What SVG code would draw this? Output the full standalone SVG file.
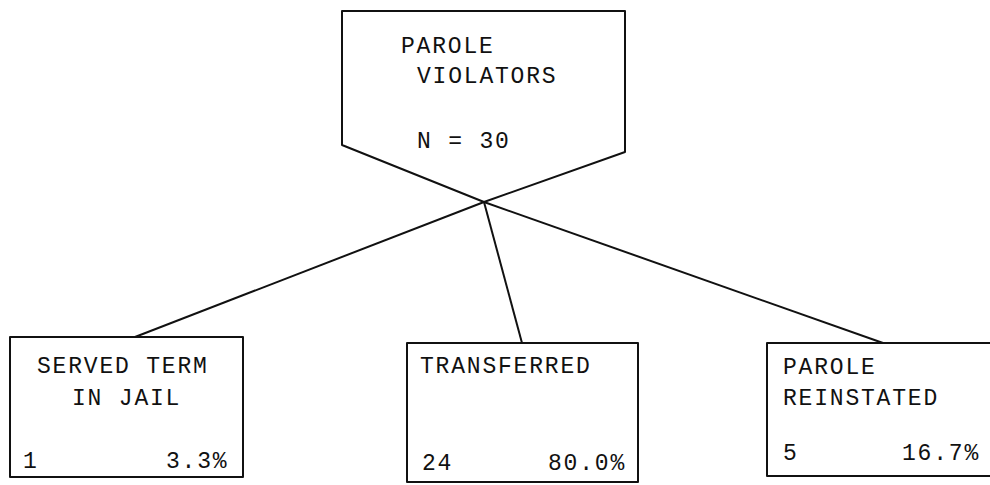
<svg xmlns="http://www.w3.org/2000/svg" width="990" height="485" viewBox="0 0 990 485">
<style>
.s{fill:none;stroke:#111;stroke-width:2;stroke-linejoin:round}
.t{font-family:"Liberation Mono","DejaVu Sans Mono",monospace;font-size:23px;letter-spacing:1.8px;fill:#111}
</style>
<rect width="990" height="485" fill="#fff"/>
<g id="connectors">
<line class="s" x1="484" y1="202" x2="135" y2="337"/>
<line class="s" x1="484" y1="202" x2="522" y2="343"/>
<line class="s" x1="484" y1="202" x2="883" y2="343"/>
</g>
<g id="parole-violators">
<polygon class="s" points="342,11 625,11 625,152 484,202 342,145"/>
<text class="t" x="401" y="53">PAROLE</text>
<text class="t" x="417" y="83">VIOLATORS</text>
<text class="t" x="417" y="148">N = 30</text>
</g>
<g id="served-term">
<rect class="s" x="10" y="337" width="233" height="140"/>
<text class="t" x="37" y="373">SERVED TERM</text>
<text class="t" x="72" y="405">IN JAIL</text>
<text class="t" x="23" y="468">1</text>
<text class="t" x="166" y="468">3.3%</text>
</g>
<g id="transferred">
<rect class="s" x="407" y="343" width="231" height="139"/>
<text class="t" x="420" y="373">TRANSFERRED</text>
<text class="t" x="422" y="470">24</text>
<text class="t" x="548" y="470">80.0%</text>
</g>
<g id="parole-reinstated">
<rect class="s" x="767" y="343" width="226" height="133"/>
<text class="t" x="783" y="374">PAROLE</text>
<text class="t" x="783" y="405">REINSTATED</text>
<text class="t" x="783" y="460">5</text>
<text class="t" x="902" y="460">16.7%</text>
</g>
</svg>
